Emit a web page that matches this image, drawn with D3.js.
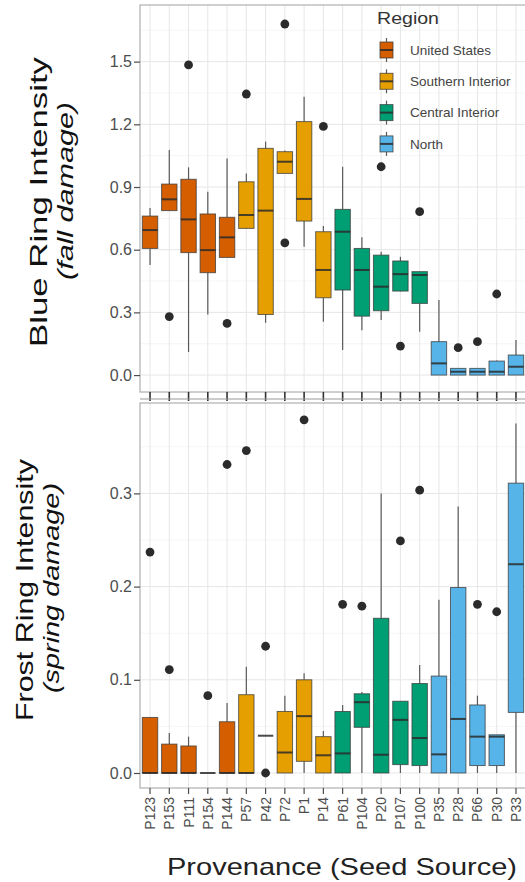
<!DOCTYPE html>
<html>
<head>
<meta charset="utf-8">
<script src="https://cdn.jsdelivr.net/npm/d3@7"></script>
<style>
  html, body { margin: 0; padding: 0; background: #fff; }
  svg { display: block; font-family: "Liberation Sans", Arial, sans-serif; }
</style>
</head>
<body>
<svg id="chart" width="525" height="882"></svg>
<script>
const provenances = ["P123", "P153", "P111", "P154", "P144", "P57", "P42", "P72", "P1", "P14",
  "P61", "P104", "P20", "P107", "P100", "P35", "P28", "P66", "P30", "P33"];
const provenanceRegion = ["us", "us", "us", "us", "us", "si", "si", "si", "si", "si",
  "ci", "ci", "ci", "ci", "ci", "no", "no", "no", "no", "no"];
const regionKeys = ["us", "si", "ci", "no"];
const regionNames = ["United States", "Southern Interior", "Central Interior", "North"];
const regionColors = ["#d55e00", "#e69f00", "#009e73", "#56b4e9"];

// [lower whisker, q1, median, q3, upper whisker]
const fallStats = [
  [0.527, 0.606, 0.694, 0.761, 0.80], [0.787, 0.787, 0.841, 0.914, 1.077],
  [0.11, 0.586, 0.745, 0.937, 0.994], [0.29, 0.49, 0.598, 0.771, 0.877],
  [0.563, 0.563, 0.659, 0.755, 1.037], [0.70, 0.702, 0.766, 0.925, 0.965],
  [0.25, 0.29, 0.787, 1.085, 1.117], [0.965, 0.965, 1.021, 1.069, 1.075],
  [0.614, 0.737, 0.843, 1.213, 1.332], [0.255, 0.37, 0.503, 0.686, 0.713],
  [0.12, 0.407, 0.686, 0.793, 0.997], [0.215, 0.282, 0.503, 0.606, 0.659],
  [0.263, 0.308, 0.423, 0.574, 0.59], [0.40, 0.402, 0.483, 0.546, 0.566],
  [0.207, 0.343, 0.479, 0.495, 0.495], [0, 0, 0.056, 0.16, 0.359],
  [0, 0, 0.016, 0.032, 0.032], [0, 0, 0.016, 0.032, 0.032],
  [0, 0, 0.016, 0.067, 0.07], [0, 0, 0.04, 0.096, 0.168]
];
const fallOutliers = [[], [0.28], [1.484], [], [0.247], [1.345], [], [1.68, 0.633], [], [1.19],
  [], [], [0.997], [0.139], [0.782], [], [0.131], [0.16], [0.388], []];

const springStats = [
  [0, 0, 0, 0.0596, 0.0596], [0, 0, 0, 0.031, 0.043],
  [0, 0, 0, 0.029, 0.039], [0, 0, 0, 0, 0],
  [0, 0, 0, 0.055, 0.075], [0, 0, 0, 0.084, 0.114],
  [0.04, 0.04, 0.04, 0.04, 0.04], [0, 0, 0.022, 0.066, 0.083],
  [0, 0.0125, 0.061, 0.10, 0.107], [0, 0, 0.019, 0.039, 0.045],
  [0, 0, 0.021, 0.066, 0.073], [0, 0.049, 0.076, 0.085, 0.087],
  [0, 0, 0.0196, 0.166, 0.30], [0, 0.009, 0.057, 0.077, 0.077],
  [0, 0.008, 0.0375, 0.096, 0.116], [0, 0, 0.02, 0.104, 0.186],
  [0, 0, 0.058, 0.199, 0.286], [0, 0.008, 0.039, 0.073, 0.083],
  [0, 0.008, 0.039, 0.041, 0.041], [0, 0.065, 0.224, 0.311, 0.375]
];
const springOutliers = [[0.237], [0.111], [], [0.083], [0.331], [0.346], [0.136, 0], [], [0.379], [],
  [0.181], [0.179], [], [0.249], [0.3035], [], [], [0.181], [0.173], []];

const fallTicks = [0, 0.3, 0.6, 0.9, 1.2, 1.5];
const springTicks = [0, 0.1, 0.2, 0.3];

(function () {
  const svg = d3.select("#chart");
  const color = d3.scaleOrdinal().domain(regionKeys).range(regionColors);
  const x = d3.scaleBand()
    .domain(provenances)
    .range([140.4, 525.6])
    .paddingInner(0.2)
    .paddingOuter(0.1);
  const cx = (name) => x(name) + x.bandwidth() / 2;

  function panel(opts) {
    const y = d3.scaleLinear().domain(opts.domain).range([opts.bottom, opts.top]);
    const g = svg.append("g");

    g.append("rect")
      .attr("x", 140).attr("y", opts.top)
      .attr("width", 390).attr("height", opts.bottom - opts.top)
      .attr("fill", "#fff");

    // minor + major grid
    const minor = d3.range(opts.domain[0] < 0 ? 0 : opts.domain[0], opts.domain[1], opts.step / 2);
    g.append("g").selectAll("line")
      .data(minor.filter((v) => !opts.ticks.some((t) => Math.abs(t - v) < 1e-9)))
      .join("line")
      .attr("x1", 140).attr("x2", 525)
      .attr("y1", (v) => y(v)).attr("y2", (v) => y(v))
      .attr("stroke", "#f3f3f3").attr("stroke-width", 0.8);
    g.append("g").selectAll("line")
      .data(opts.ticks)
      .join("line")
      .attr("x1", 140).attr("x2", 525)
      .attr("y1", (v) => y(v)).attr("y2", (v) => y(v))
      .attr("stroke", "#e6e6e6").attr("stroke-width", 1);
    g.append("g").selectAll("line")
      .data(provenances)
      .join("line")
      .attr("x1", cx).attr("x2", cx)
      .attr("y1", opts.top).attr("y2", opts.bottom)
      .attr("stroke", "#e6e6e6").attr("stroke-width", 1);

    const rows = provenances.map((name, i) => ({
      name: name,
      region: provenanceRegion[i],
      s: opts.stats[i],
      out: opts.outliers[i],
    }));

    const box = g.append("g").selectAll("g")
      .data(rows)
      .join("g");

    box.append("line")
      .attr("x1", (d) => cx(d.name)).attr("x2", (d) => cx(d.name))
      .attr("y1", (d) => y(d.s[0])).attr("y2", (d) => y(d.s[1]))
      .attr("stroke", "#5a5a5a").attr("stroke-width", 1.2);
    box.append("line")
      .attr("x1", (d) => cx(d.name)).attr("x2", (d) => cx(d.name))
      .attr("y1", (d) => y(d.s[3])).attr("y2", (d) => y(d.s[4]))
      .attr("stroke", "#5a5a5a").attr("stroke-width", 1.2);
    box.append("rect")
      .attr("x", (d) => x(d.name))
      .attr("width", x.bandwidth())
      .attr("y", (d) => y(d.s[3]))
      .attr("height", (d) => y(d.s[1]) - y(d.s[3]))
      .attr("fill", (d) => color(d.region))
      .attr("stroke", "#3a3a3a")
      .attr("stroke-opacity", 0.75)
      .attr("stroke-width", 1);
    box.append("line")
      .attr("x1", (d) => x(d.name)).attr("x2", (d) => x(d.name) + x.bandwidth())
      .attr("y1", (d) => y(d.s[2])).attr("y2", (d) => y(d.s[2]))
      .attr("stroke", "#2a2a2a").attr("stroke-opacity", 0.85).attr("stroke-width", 2);
    box.selectAll("circle")
      .data((d) => d.out.map((v) => ({ name: d.name, v: v })))
      .join("circle")
      .attr("cx", (d) => cx(d.name))
      .attr("cy", (d) => y(d.v))
      .attr("r", 4.4)
      .attr("fill", "#2b2b2b");

    g.append("rect")
      .attr("x", 140).attr("y", opts.top)
      .attr("width", 390).attr("height", opts.bottom - opts.top)
      .attr("fill", "none").attr("stroke", "#b0b0b0").attr("stroke-width", 1.2);

    const axis = g.append("g")
      .attr("transform", "translate(140,0)")
      .call(d3.axisLeft(y).tickValues(opts.ticks).tickFormat(d3.format(".1f")).tickSize(6).tickPadding(2));
    axis.select(".domain").remove();
    axis.selectAll("line").attr("stroke", "#4d4d4d").attr("stroke-width", 1.2);
    axis.selectAll("text")
      .attr("fill", "#4d4d4d")
      .style("font-size", "16px")
      .style("font-family", "\"Liberation Sans\", Arial, sans-serif");

    return y;
  }

  panel({
    top: 5, bottom: 392, domain: [-0.081, 1.771], step: 0.3,
    ticks: fallTicks, stats: fallStats, outliers: fallOutliers,
  });
  panel({
    top: 403, bottom: 788, domain: [-0.0161, 0.397], step: 0.1,
    ticks: springTicks, stats: springStats, outliers: springOutliers,
  });

  // strip between the panels: tick marks of the top panel
  svg.append("g").selectAll("line")
    .data(provenances)
    .join("line")
    .attr("x1", cx).attr("x2", cx)
    .attr("y1", 392).attr("y2", 401)
    .attr("stroke", "#333").attr("stroke-width", 1.6);
  svg.append("line")
    .attr("x1", 140).attr("x2", 525)
    .attr("y1", 399).attr("y2", 399)
    .attr("stroke", "#9a9a9a").attr("stroke-width", 1.2);

  // bottom x axis
  const xAxis = svg.append("g")
    .attr("transform", "translate(0,788)")
    .call(d3.axisBottom(x).tickSize(6).tickPadding(3));
  xAxis.select(".domain").remove();
  xAxis.selectAll("line").attr("stroke", "#4d4d4d").attr("stroke-width", 1.2);
  xAxis.selectAll("text")
    .attr("transform", "rotate(-90)")
    .attr("x", -9)
    .attr("y", 0)
    .attr("dy", "0.36em")
    .attr("fill", "#4d4d4d")
    .style("text-anchor", "end")
    .style("font-size", "14px")
    .style("font-family", "\"Liberation Sans\", Arial, sans-serif");

  // axis titles
  const titles = [
    { text: "Blue  Ring Intensity", x: 47, y: 202, size: 24, len: 290, italic: false },
    { text: "(fall damage)", x: 73, y: 191, size: 22, len: 178, italic: true },
    { text: "Frost Ring Intensity", x: 33, y: 590, size: 24, len: 262, italic: false },
    { text: "(spring damage)", x: 59, y: 588, size: 22, len: 210, italic: true },
  ];
  svg.append("g").selectAll("text")
    .data(titles)
    .join("text")
    .attr("transform", (d) => `translate(${d.x},${d.y}) rotate(-90)`)
    .attr("text-anchor", "middle")
    .attr("textLength", (d) => d.len)
    .attr("lengthAdjust", "spacingAndGlyphs")
    .style("font-size", (d) => `${d.size}px`)
    .style("font-style", (d) => (d.italic ? "italic" : "normal"))
    .attr("fill", "#111")
    .text((d) => d.text);

  svg.append("text")
    .attr("x", 342).attr("y", 875)
    .attr("text-anchor", "middle")
    .attr("textLength", 350)
    .attr("lengthAdjust", "spacingAndGlyphs")
    .style("font-size", "24px")
    .attr("fill", "#222")
    .text("Provenance (Seed Source)");

  // legend
  const legend = svg.append("g");
  legend.append("text")
    .attr("x", 377).attr("y", 24)
    .style("font-size", "17px")
    .attr("textLength", 62)
    .attr("lengthAdjust", "spacingAndGlyphs")
    .attr("fill", "#333")
    .text("Region");
  const item = legend.selectAll("g.item")
    .data(regionKeys)
    .join("g")
    .attr("class", "item")
    .attr("transform", (d, i) => `translate(0,${50 + i * 31.3})`);
  item.append("line")
    .attr("x1", 386.5).attr("x2", 386.5)
    .attr("y1", -12).attr("y2", 12)
    .attr("stroke", "#5a5a5a").attr("stroke-width", 1.2);
  item.append("rect")
    .attr("x", 380).attr("y", -8)
    .attr("width", 13).attr("height", 16)
    .attr("fill", (d) => color(d))
    .attr("stroke", "#3a3a3a").attr("stroke-opacity", 0.75);
  item.append("line")
    .attr("x1", 380).attr("x2", 393)
    .attr("y1", 0).attr("y2", 0)
    .attr("stroke", "#2a2a2a").attr("stroke-opacity", 0.85).attr("stroke-width", 2);
  item.append("text")
    .attr("x", 410).attr("y", 0)
    .attr("dy", "0.35em")
    .style("font-size", "13.5px")
    .attr("fill", "#444")
    .text((d, i) => regionNames[i]);
})();
</script>
</body>
</html>
